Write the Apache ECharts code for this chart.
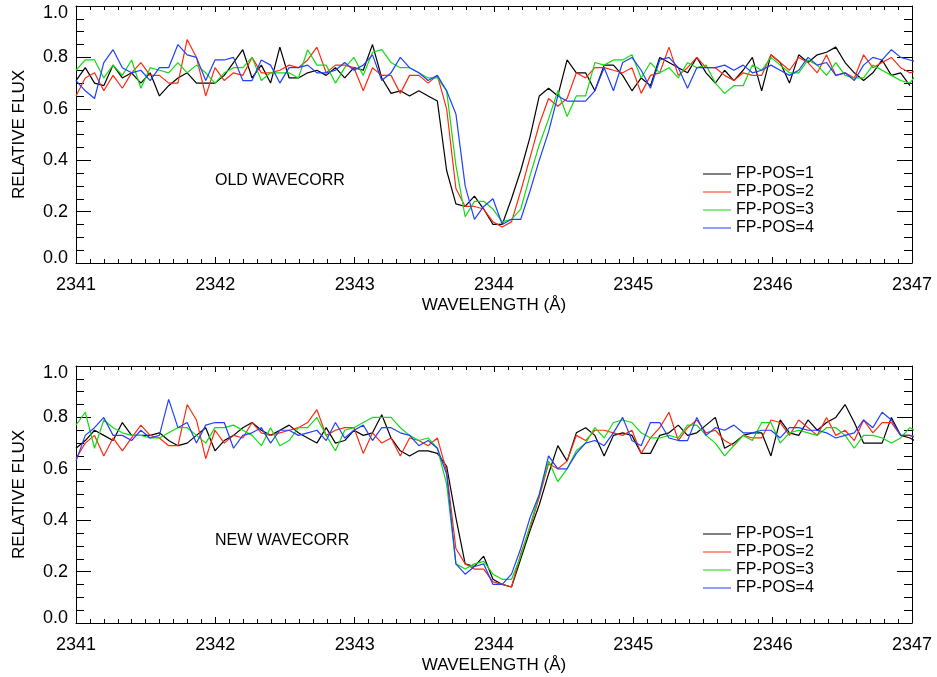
<!DOCTYPE html>
<html>
<head>
<meta charset="utf-8">
<script src="https://cdn.jsdelivr.net/npm/echarts@6/dist/echarts.min.js"></script>
<style>
  html, body { margin: 0; padding: 0; background: #fff; }
  #chart { width: 937px; height: 677px; }
</style>
</head>
<body>
<div id="chart"></div>
<script>
// Wavelength sampling of the spectra (uniform dispersion grid, Å)
const WAVE_START = 2341.0;
const WAVE_STEP = 0.0665;
const NPTS = 92;

const seriesNames = ['FP-POS=1', 'FP-POS=2', 'FP-POS=3', 'FP-POS=4'];
const panelLabels = ['OLD WAVECORR', 'NEW WAVECORR'];
const xTicks = [2341, 2342, 2343, 2344, 2345, 2346, 2347];
const yTicks = [0.0, 0.2, 0.4, 0.6, 0.8, 1.0];

// ---- OLD WAVECORR (top panel) relative flux ----
const oldPos1 = [0.71,0.76,0.70,0.69,0.77,0.72,0.74,0.70,0.74,0.65,0.69,0.72,0.74,0.70,0.70,0.70,0.73,0.78,0.83,0.72,0.77,0.70,0.84,0.72,0.72,0.74,0.75,0.73,0.76,0.72,0.76,0.75,
  0.85,0.72,0.66,0.67,0.65,0.67,0.65,0.63,0.36,0.23,0.22,0.26,0.21,0.15,0.15,0.25,0.36,0.49,0.65,0.68,0.65,0.79,0.74,0.74,0.67,0.77,0.77,0.73,0.67,0.72,
  0.69,0.80,0.78,0.76,0.74,0.80,0.74,0.70,0.75,0.71,0.75,0.80,0.67,0.81,0.78,0.70,0.81,0.78,0.81,0.82,0.84,0.78,0.74,0.71,0.74,0.79,0.73,0.74,0.69];
const oldPos2 = [0.65,0.72,0.74,0.67,0.73,0.68,0.74,0.78,0.73,0.73,0.70,0.70,0.87,0.80,0.65,0.76,0.71,0.74,0.73,0.80,0.74,0.74,0.75,0.77,0.76,0.79,0.84,0.74,0.77,0.77,0.76,0.67,
  0.76,0.73,0.73,0.66,0.73,0.73,0.70,0.73,0.60,0.29,0.22,0.22,0.21,0.16,0.14,0.16,0.28,0.41,0.54,0.64,0.61,0.64,0.74,0.72,0.76,0.76,0.75,0.74,0.76,0.66,
  0.73,0.74,0.84,0.73,0.76,0.80,0.76,0.76,0.73,0.71,0.74,0.73,0.73,0.81,0.78,0.75,0.80,0.78,0.74,0.81,0.73,0.74,0.72,0.81,0.76,0.78,0.80,0.76,0.74,0.75];
const oldPos3 = [0.75,0.79,0.79,0.72,0.77,0.73,0.79,0.68,0.76,0.75,0.74,0.78,0.74,0.77,0.74,0.70,0.74,0.76,0.76,0.80,0.71,0.74,0.74,0.74,0.72,0.83,0.77,0.77,0.70,0.76,0.80,0.73,
  0.82,0.83,0.78,0.76,0.76,0.74,0.72,0.72,0.67,0.38,0.18,0.24,0.24,0.21,0.16,0.17,0.21,0.34,0.46,0.56,0.67,0.57,0.65,0.65,0.78,0.77,0.79,0.79,0.81,0.72,
  0.78,0.74,0.76,0.72,0.78,0.76,0.77,0.70,0.66,0.69,0.69,0.77,0.75,0.80,0.77,0.74,0.74,0.79,0.77,0.73,0.78,0.73,0.72,0.72,0.77,0.75,0.73,0.71,0.70,0.75];
const oldPos4 = [0.71,0.67,0.64,0.78,0.83,0.76,0.74,0.75,0.71,0.76,0.76,0.85,0.81,0.80,0.71,0.79,0.79,0.80,0.71,0.71,0.79,0.77,0.70,0.76,0.76,0.77,0.74,0.74,0.75,0.78,0.75,0.77,
  0.81,0.71,0.74,0.80,0.76,0.74,0.71,0.73,0.67,0.58,0.30,0.17,0.22,0.25,0.15,0.17,0.17,0.28,0.40,0.51,0.65,0.63,0.63,0.63,0.67,0.76,0.67,0.78,0.80,0.75,
  0.68,0.79,0.80,0.76,0.68,0.76,0.76,0.76,0.77,0.75,0.77,0.74,0.75,0.77,0.75,0.73,0.75,0.80,0.77,0.78,0.73,0.74,0.71,0.77,0.80,0.79,0.83,0.80,0.79,0.78];

// ---- NEW WAVECORR (bottom panel) relative flux ----
const newPos1 = [0.68,0.71,0.75,0.73,0.71,0.78,0.73,0.73,0.73,0.74,0.71,0.69,0.70,0.73,0.76,0.67,0.71,0.73,0.76,0.78,0.75,0.73,0.75,0.77,0.74,0.72,0.70,0.76,0.70,0.71,0.75,0.73,
  0.74,0.81,0.72,0.67,0.65,0.67,0.67,0.66,0.61,0.41,0.23,0.22,0.26,0.17,0.15,0.14,0.25,0.36,0.46,0.58,0.69,0.63,0.74,0.76,0.73,0.65,0.73,0.74,0.73,0.66,
  0.66,0.73,0.74,0.77,0.73,0.74,0.77,0.80,0.68,0.70,0.73,0.74,0.74,0.65,0.79,0.74,0.73,0.79,0.75,0.78,0.80,0.85,0.78,0.70,0.70,0.70,0.80,0.73,0.72,0.70];
const newPos2 = [0.64,0.70,0.73,0.65,0.72,0.67,0.72,0.77,0.73,0.72,0.69,0.69,0.85,0.79,0.64,0.75,0.70,0.73,0.72,0.78,0.74,0.73,0.74,0.75,0.76,0.78,0.83,0.73,0.75,0.76,0.76,0.66,
  0.74,0.70,0.72,0.65,0.72,0.71,0.69,0.72,0.59,0.29,0.23,0.21,0.21,0.16,0.15,0.14,0.27,0.37,0.49,0.62,0.60,0.63,0.73,0.71,0.75,0.75,0.74,0.73,0.75,0.66,
  0.72,0.76,0.82,0.71,0.76,0.79,0.74,0.75,0.71,0.69,0.73,0.72,0.72,0.79,0.78,0.73,0.79,0.76,0.73,0.80,0.73,0.75,0.71,0.79,0.74,0.78,0.78,0.73,0.73,0.72];
const newPos3 = [0.77,0.82,0.68,0.79,0.76,0.74,0.73,0.73,0.72,0.72,0.74,0.76,0.76,0.73,0.70,0.76,0.76,0.77,0.75,0.73,0.69,0.76,0.69,0.71,0.76,0.76,0.80,0.73,0.67,0.75,0.76,0.78,
  0.80,0.80,0.80,0.76,0.73,0.71,0.72,0.68,0.54,0.23,0.21,0.23,0.24,0.19,0.17,0.17,0.26,0.38,0.50,0.63,0.55,0.60,0.67,0.70,0.76,0.72,0.78,0.79,0.78,0.74,
  0.72,0.72,0.73,0.72,0.77,0.77,0.73,0.70,0.65,0.69,0.73,0.71,0.78,0.78,0.70,0.74,0.75,0.74,0.73,0.76,0.76,0.73,0.68,0.73,0.73,0.72,0.70,0.72,0.76,0.74];
const newPos4 = [0.63,0.73,0.76,0.80,0.73,0.73,0.71,0.75,0.72,0.73,0.87,0.76,0.78,0.70,0.77,0.78,0.78,0.68,0.73,0.74,0.76,0.70,0.75,0.75,0.73,0.74,0.75,0.71,0.78,0.72,0.75,0.77,
  0.71,0.76,0.76,0.74,0.73,0.69,0.71,0.68,0.58,0.23,0.19,0.22,0.23,0.15,0.15,0.19,0.29,0.41,0.50,0.65,0.60,0.60,0.66,0.70,0.71,0.69,0.74,0.80,0.71,0.69,
  0.78,0.78,0.72,0.71,0.71,0.80,0.73,0.76,0.75,0.77,0.74,0.74,0.75,0.75,0.72,0.76,0.76,0.75,0.75,0.74,0.72,0.73,0.74,0.79,0.76,0.82,0.79,0.73,0.73,0.72];

const colors = ['#000000', '#ff2a10', '#10dd10', '#1f40ff'];
const FONT = "'Liberation Sans', Arial, sans-serif";
// thin horizontal stroke used as the legend key (bounding box spans the full item box)
const LEGEND_ICON = 'path://M0,0L0.01,0L0.01,0.01L0,0.01Z M0,8.4L28,8.4L28,9.6L0,9.6Z M27.99,17.99L28,17.99L28,18L27.99,18Z';

const wave = [];
for (let i = 0; i < NPTS; i++) wave.push(+(WAVE_START + i * WAVE_STEP).toFixed(4));

function pairs(vals) { return vals.map((v, i) => [wave[i], v]); }

const panels = [
  { top: 6, data: [oldPos1, oldPos2, oldPos3, oldPos4] },
  { top: 366, data: [newPos1, newPos2, newPos3, newPos4] }
];
const PLOT_H = 257;

const grid = [], xAxis = [], yAxis = [], series = [], legend = [], graphic = [];

panels.forEach((p, gi) => {
  grid.push({ left: 76, top: p.top, width: 836, height: PLOT_H, outerBoundsMode: 'none', containLabel: false, show: false });
  const axLine = { show: true, onZero: false, lineStyle: { color: '#000', width: 1 } };
  const xBase = {
    type: 'value', gridIndex: gi, min: xTicks[0], max: xTicks[xTicks.length - 1], interval: 1,
    axisLine: axLine,
    axisTick: { show: true, inside: true, length: 6, lineStyle: { color: '#000', width: 1 } },
    minorTick: { show: true, splitNumber: 10, length: 4, lineStyle: { color: '#000', width: 1 } },
    splitLine: { show: false }, minorSplitLine: { show: false }
  };
  xAxis.push(Object.assign({}, xBase, {
    position: 'bottom',
    axisLabel: { show: true, margin: 13, fontSize: 18, color: '#000', fontFamily: FONT,
      formatter: v => String(v) },
    name: 'WAVELENGTH (Å)', nameLocation: 'middle', nameGap: 34,
    nameTextStyle: { fontSize: 17, color: '#000', fontFamily: FONT }
  }));
  xAxis.push(Object.assign({}, xBase, { position: 'top', axisLabel: { show: false } }));

  const yBase = {
    type: 'value', gridIndex: gi, min: yTicks[0], max: yTicks[yTicks.length - 1], interval: 0.2,
    axisLine: axLine,
    axisTick: { show: true, inside: true, length: 15, lineStyle: { color: '#000', width: 1 } },
    minorTick: { show: true, splitNumber: 4, length: 8, lineStyle: { color: '#000', width: 1 } },
    splitLine: { show: false }, minorSplitLine: { show: false }
  };
  yAxis.push(Object.assign({}, yBase, {
    position: 'left',
    axisLabel: { show: true, margin: 8, fontSize: 18, color: '#000', fontFamily: FONT,
      formatter: v => {
        const t = v.toFixed(1);
        if (Math.abs(v) < 1e-9) return '{lo|' + t + '}';
        if (Math.abs(v - 1) < 1e-9) return '{hi|' + t + '}';
        return '{n|' + t + '}';
      },
      rich: {
        lo: { fontSize: 18, fontFamily: FONT, color: '#000', padding: [0, 0, 10, 0] },
        hi: { fontSize: 18, fontFamily: FONT, color: '#000', padding: [14, 0, 0, 0] },
        n: { fontSize: 18, fontFamily: FONT, color: '#000' }
      }
    },
    name: 'RELATIVE FLUX', nameLocation: 'middle', nameGap: 48,
    nameTextStyle: { fontSize: 17, color: '#000', fontFamily: FONT }
  }));
  yAxis.push(Object.assign({}, yBase, { position: 'right', axisLabel: { show: false } }));

  p.data.forEach((vals, si) => {
    series.push({
      type: 'line', name: seriesNames[si], xAxisIndex: gi * 2, yAxisIndex: gi * 2,
      data: pairs(vals), symbol: 'none', showSymbol: false, clip: true,
      lineStyle: { color: colors[si], width: 1.2 }, itemStyle: { color: colors[si] },
      animation: false, silent: true
    });
  });

  legend.push({
    show: true, left: 703, top: p.top + 159, orient: 'vertical', padding: 0,
    itemWidth: 28, itemHeight: 18, itemGap: 0, selectedMode: false,
    icon: LEGEND_ICON,
    itemStyle: { borderWidth: 0 },
    textStyle: { fontSize: 16, color: '#000', fontFamily: FONT, lineHeight: 18 },
    data: seriesNames
  });

  graphic.push({
    type: 'text', x: 215, y: p.top + 175,
    style: { text: panelLabels[gi], fontSize: 16, fontFamily: FONT, fill: '#000', verticalAlign: 'middle' }
  });
});

const chart = echarts.init(document.getElementById('chart'), null, { renderer: 'canvas' });
chart.setOption({
  backgroundColor: '#ffffff',
  animation: false,
  grid, xAxis, yAxis, series, legend, graphic
});
</script>
</body>
</html>
